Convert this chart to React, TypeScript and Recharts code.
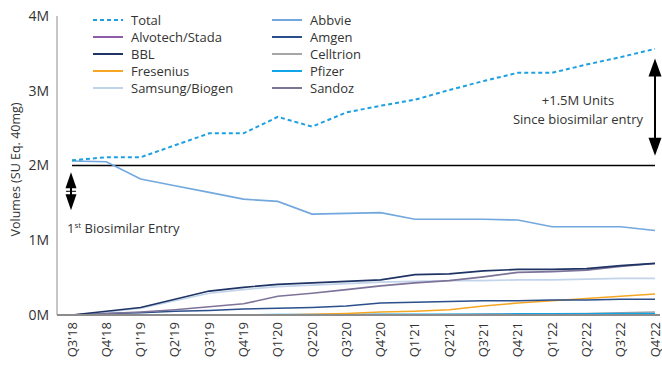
import { CartesianGrid, Line, LineChart, ReferenceLine, XAxis, YAxis } from "recharts";

const quarters = [
  "Q3'18", "Q4'18", "Q1'19", "Q2'19", "Q3'19", "Q4'19", "Q1'20", "Q2'20", "Q3'20",
  "Q4'20", "Q1'21", "Q2'21", "Q3'21", "Q4'21", "Q1'22", "Q2'22", "Q3'22", "Q4'22",
];

// volumes in millions of units
const total = [2.07, 2.11, 2.11, 2.27, 2.43, 2.43, 2.65, 2.52, 2.71, 2.8, 2.88, 3.01, 3.13, 3.24, 3.24, 3.35, 3.45, 3.56];
const abbvie = [2.06, 2.05, 1.82, 1.73, 1.64, 1.55, 1.52, 1.35, 1.36, 1.37, 1.28, 1.28, 1.28, 1.27, 1.18, 1.18, 1.18, 1.13];
const bbl = [0, 0.05, 0.1, 0.21, 0.32, 0.37, 0.41, 0.43, 0.45, 0.47, 0.54, 0.55, 0.59, 0.61, 0.61, 0.62, 0.66, 0.69];
const samsung = [0, 0.04, 0.09, 0.19, 0.29, 0.34, 0.38, 0.4, 0.42, 0.44, 0.45, 0.46, 0.46, 0.47, 0.47, 0.48, 0.49, 0.49];
const sandoz = [0, 0.02, 0.04, 0.07, 0.11, 0.15, 0.25, 0.29, 0.34, 0.39, 0.43, 0.46, 0.51, 0.57, 0.58, 0.6, 0.65, 0.69];
const amgen = [0, 0.02, 0.03, 0.05, 0.06, 0.08, 0.09, 0.1, 0.12, 0.16, 0.17, 0.18, 0.19, 0.19, 0.2, 0.2, 0.21, 0.21];
const fresenius = [0, 0, 0, 0, 0, 0, 0, 0.01, 0.02, 0.04, 0.05, 0.07, 0.12, 0.16, 0.19, 0.22, 0.25, 0.28];
const celltrion = [0, 0, 0, 0, 0, 0, 0, 0, 0, 0, 0, 0.005, 0.01, 0.01, 0.015, 0.02, 0.03, 0.04];
const pfizer = [0, 0, 0, 0, 0, 0, 0.005, 0.005, 0.005, 0.01, 0.01, 0.01, 0.01, 0.015, 0.015, 0.015, 0.02, 0.02];
const alvotech = [0, 0, 0, 0, 0, 0, 0, 0, 0, 0, 0, 0, 0.005, 0.005, 0.01, 0.01, 0.01, 0.015];

const yTicks = [0, 1e6, 2e6, 3e6, 4e6];

type Series = { key: string; name: string; values: number[]; color: string; dashed?: boolean };

// draw order (later on top)
const SERIES: Series[] = [
  { key: "celltrion", name: "Celltrion", values: celltrion, color: "#a6a6a6" },
  { key: "alvotech", name: "Alvotech/Stada", values: alvotech, color: "#8e5ba8" },
  { key: "pfizer", name: "Pfizer", values: pfizer, color: "#10a5e8" },
  { key: "fresenius", name: "Fresenius", values: fresenius, color: "#f5a623" },
  { key: "amgen", name: "Amgen", values: amgen, color: "#2a4f8c" },
  { key: "samsung", name: "Samsung/Biogen", values: samsung, color: "#c2d4ea" },
  { key: "sandoz", name: "Sandoz", values: sandoz, color: "#7d7399" },
  { key: "bbl", name: "BBL", values: bbl, color: "#1f3464" },
  { key: "abbvie", name: "Abbvie", values: abbvie, color: "#72a8de" },
  { key: "total", name: "Total", values: total, color: "#1ca0e0", dashed: true },
];

const LEGEND_ORDER = [
  "total", "alvotech", "bbl", "fresenius", "samsung",
  "abbvie", "amgen", "celltrion", "pfizer", "sandoz",
];

const data = quarters.map((q, i) => {
  const row: Record<string, number | string> = { quarter: q };
  SERIES.forEach((s) => {
    row[s.key] = s.values[i] * 1e6;
  });
  return row;
});

const FONT = "'Open Sans', 'Noto Sans', sans-serif";
const TEXT = "#333333";

function QuarterTick({ x, y, payload }: any) {
  const tx = x + 4.5;
  const ty = y - 1;
  return (
    <text
      x={tx}
      y={ty}
      transform={`rotate(-90 ${tx} ${ty})`}
      textAnchor="end"
      fontSize={13}
      fill={TEXT}
      fontFamily={FONT}
    >
      {payload.value}
    </text>
  );
}

function Head({ x, y, w, h, up }: { x: number; y: number; w: number; h: number; up: boolean }) {
  const base = up ? y + h : y - h;
  return <polygon points={`${x},${y} ${x - w / 2},${base} ${x + w / 2},${base}`} fill="#000" />;
}

function RightArrow(props: any) {
  const { x1, y1, x2, y2 } = props;
  const x = x1;
  const top = Math.min(y1, y2);
  const bottom = Math.max(y1, y2);
  return (
    <g>
      <line x1={x} x2={x} y1={top + 10} y2={bottom - 10} stroke="#000" strokeWidth={2} />
      <Head x={x} y={top} w={13} h={18} up />
      <Head x={x} y={bottom} w={13} h={18} up={false} />
      <text x={x - 77} y={105} textAnchor="middle" fontSize={13} fill={TEXT} fontFamily={FONT}>
        +1.5M Units
      </text>
      <text x={x - 77} y={124} textAnchor="middle" fontSize={13} fill={TEXT} fontFamily={FONT}>
        Since biosimilar entry
      </text>
    </g>
  );
}

function LeftArrow(props: any) {
  const { x1, y1, y2 } = props;
  const x = x1 - 1;
  const top = Math.min(y1, y2);
  const bottom = Math.max(y1, y2);
  const mid = (top + bottom) / 2;
  return (
    <g>
      <line x1={x} x2={x} y1={top + 8} y2={bottom - 8} stroke="#000" strokeWidth={2} />
      <Head x={x} y={top} w={11} h={16} up />
      <Head x={x} y={bottom} w={11} h={16} up={false} />
      <line x1={x - 5} x2={x + 5} y1={mid} y2={mid} stroke="#000" strokeWidth={1} />
      <text x={x - 4} y={bottom + 23} fontSize={13} fill={TEXT} fontFamily={FONT}>
        1<tspan fontSize={8} dy={-5}>st</tspan>
        <tspan dy={5}> Biosimilar Entry</tspan>
      </text>
    </g>
  );
}

function LegendBox() {
  const items = LEGEND_ORDER.map((k) => SERIES.find((s) => s.key === k)!);
  return (
    <div
      style={{
        position: "absolute",
        left: 93,
        top: 11,
        display: "grid",
        gridTemplateColumns: "179px 179px",
        gridTemplateRows: "repeat(5, 17px)",
        gridAutoFlow: "column",
        fontFamily: FONT,
        fontSize: 13,
        color: TEXT,
        pointerEvents: "none",
      }}
    >
      {items.map((s) => (
        <div key={s.key} style={{ display: "flex", alignItems: "center", height: 17 }}>
          <svg width={30} height={4} style={{ marginRight: 8 }}>
            <line
              x1={0}
              x2={30}
              y1={2}
              y2={2}
              stroke={s.color}
              strokeWidth={2}
              strokeDasharray={s.dashed ? "4 3" : undefined}
            />
          </svg>
          <span>{s.name}</span>
        </div>
      ))}
    </div>
  );
}

export default function App() {
  return (
    <div style={{ position: "relative", width: 662, height: 365, background: "#fff" }}>
      <style>{"body{margin:0}"}</style>
      <LineChart
        width={662}
        height={365}
        data={data}
        margin={{ top: 16, right: 2, bottom: 0, left: 0 }}
      >
        <CartesianGrid stroke="none" />
        <XAxis
          dataKey="quarter"
          interval={0}
          padding={{ left: 15, right: 5 }}
          height={50}
          tickLine={false}
          axisLine={{ stroke: "#8c8c8c", strokeWidth: 2 }}
          tick={<QuarterTick />}
        />
        <YAxis
          domain={[0, 4e6]}
          ticks={yTicks}
          width={57}
          tickLine={false}
          axisLine={{ stroke: "#8c8c8c", strokeWidth: 1 }}
          tickFormatter={(v: number) => `${v / 1e6}M`}
          tick={{ fontSize: 14, fill: TEXT, fontFamily: FONT }}
          label={{
            value: "Volumes (SU Eq. 40mg)",
            angle: -90,
            position: "insideLeft",
            offset: 16,
            dy: 4,
            style: { textAnchor: "middle", fontSize: 12.5, fill: TEXT, fontFamily: FONT },
          }}
        />
        <ReferenceLine
          segment={[
            { x: "Q3'18", y: 2e6 },
            { x: "Q4'22", y: 2e6 },
          ]}
          stroke="#000"
          strokeWidth={1.5}
        />
        {SERIES.map((s) => (
          <Line
            key={s.key}
            type="linear"
            dataKey={s.key}
            name={s.name}
            stroke={s.color}
            strokeWidth={s.dashed ? 2 : 1.6}
            strokeDasharray={s.dashed ? "4 3" : undefined}
            dot={false}
            activeDot={false}
            isAnimationActive={false}
          />
        ))}
        <ReferenceLine
          segment={[
            { x: "Q4'22", y: 3.43e6 },
            { x: "Q4'22", y: 2.13e6 },
          ]}
          shape={<RightArrow />}
        />
        <ReferenceLine
          segment={[
            { x: "Q3'18", y: 1.91e6 },
            { x: "Q3'18", y: 1.4e6 },
          ]}
          shape={<LeftArrow />}
        />
      </LineChart>
      <LegendBox />
    </div>
  );
}
